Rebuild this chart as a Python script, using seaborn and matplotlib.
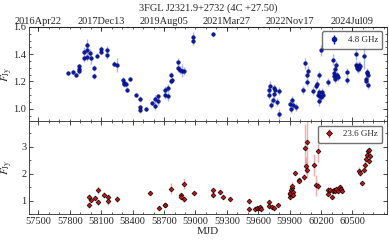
import datetime
import numpy as np
import pandas as pd
import seaborn as sns
import matplotlib
matplotlib.use('Agg')
from matplotlib import pyplot as plt
from matplotlib.ticker import MultipleLocator, FixedLocator, FuncFormatter

# 4.8 GHz light curve (MJD, flux in Jy, error)
mjd_48 = [57787, 57831, 57860, 57885, 57885, 57885, 57939, 57939, 57968, 57968, 57968,
          57997, 58006, 58035, 58035, 58063, 58102, 58102, 58159, 58159, 58226, 58255,
          58312, 58315, 58320, 58340, 58347, 58372, 58436, 58467, 58467, 58467, 58529,
          58586, 58617, 58617, 58646, 58646, 58713, 58713, 58739, 58739, 58770, 58770,
          58775, 58830, 58830, 58850, 58872, 58887, 58978, 58978, 59165,
          59706, 59706, 59716, 59725, 59741, 59747, 59747, 59757, 59780, 59795, 59795,
          59900, 59914, 59923, 59933, 59957, 60028, 60050, 60066, 60066, 60072, 60124,
          60155, 60162, 60168, 60177, 60184, 60184, 60193, 60200, 60203, 60212, 60222,
          60263, 60315, 60322, 60322, 60337, 60337, 60346, 60356, 60365, 60448, 60448,
          60537, 60537, 60547, 60547, 60556, 60566, 60566, 60575, 60614, 60633, 60633,
          60642, 60642, 60652, 60652]
flux_48 = [1.26, 1.27, 1.245, 1.31, 1.29, 1.275, 1.42, 1.375, 1.47, 1.43, 1.38,
           1.41, 1.37, 1.30, 1.24, 1.39, 1.44, 1.42, 1.43, 1.395, 1.33, 1.32,
           1.21, 1.19, 1.18, 1.18, 1.14, 1.215, 1.10, 1.07, 1.01, 0.99, 1.00,
           1.04, 1.07, 1.02, 1.09, 1.06, 1.14, 1.10, 1.15, 1.09, 1.20, 1.25,
           1.21, 1.345, 1.30, 1.285, 1.28, 1.275, 1.53, 1.50, 1.545,
           1.14, 1.10, 1.17, 1.03, 1.065, 1.11, 1.15, 1.14, 1.05, 1.13, 0.965,
           1.035, 1.00, 1.065, 1.03, 1.015, 1.14, 1.335, 1.195, 1.245, 1.28, 1.13,
           1.165, 1.185, 1.10, 1.245, 1.12, 1.06, 1.09, 1.43, 1.085, 1.12, 1.10,
           1.195, 1.36, 1.24, 1.26, 1.22, 1.29, 1.32, 1.25, 1.23, 1.27, 1.21,
           1.40, 1.32, 1.31, 1.30, 1.29, 1.30, 1.32, 1.31, 1.385, 1.22, 1.20,
           1.27, 1.26, 1.175, 1.25]
err_48 = [0.015, 0.015, 0.015, 0.02, 0.02, 0.02, 0.03, 0.03, 0.04, 0.03, 0.03,
          0.03, 0.04, 0.02, 0.02, 0.02, 0.02, 0.02, 0.03, 0.03, 0.02, 0.05,
          0.02, 0.02, 0.02, 0.02, 0.02, 0.015, 0.015, 0.02, 0.02, 0.02, 0.015,
          0.015, 0.03, 0.03, 0.02, 0.03, 0.03, 0.03, 0.03, 0.03, 0.02, 0.02,
          0.02, 0.03, 0.03, 0.03, 0.05, 0.03, 0.03, 0.03, 0.02,
          0.03, 0.03, 0.03, 0.03, 0.03, 0.03, 0.03, 0.03, 0.03, 0.03, 0.03,
          0.03, 0.03, 0.03, 0.03, 0.03, 0.03, 0.04, 0.03, 0.03, 0.03, 0.03,
          0.03, 0.03, 0.03, 0.03, 0.03, 0.04, 0.03, 0.04, 0.03, 0.03, 0.03,
          0.03, 0.04, 0.03, 0.03, 0.03, 0.03, 0.03, 0.03, 0.03, 0.03, 0.03,
          0.04, 0.03, 0.03, 0.03, 0.03, 0.03, 0.03, 0.03, 0.09, 0.03, 0.03,
          0.03, 0.03, 0.03, 0.03]

# 23.6 GHz light curve
mjd_236 = [57980, 57980, 58003, 58038, 58066, 58066, 58130, 58162, 58162, 58252,
           58570, 58649, 58713, 58713, 58770, 58866, 58866, 58888, 58888, 58983,
           59169, 59169, 59238, 59264, 59327, 59509, 59509, 59573, 59589, 59604,
           59620, 59630, 59700, 59706, 59732, 59747, 59786,
           59900, 59900, 59907, 59916, 59926, 59926, 59933, 59933, 59955, 59986,
           59993, 60041, 60050, 60053, 60066, 60066, 60136, 60152, 60168, 60174,
           60263, 60263, 60289, 60305, 60311, 60320, 60337, 60346, 60359, 60375,
           60384, 60391, 60400,
           60559, 60575, 60592, 60614, 60623, 60633, 60640, 60649, 60655, 60665, 60662]
flux_236 = [1.14, 0.85, 1.04, 1.09, 1.38, 0.94, 1.22, 1.14, 1.00, 1.06,
            1.29, 0.73, 0.82, 0.85, 1.44, 1.22, 1.14, 1.06, 1.62, 1.28,
            1.38, 1.22, 1.31, 1.12, 1.05, 0.97, 0.70, 0.69, 0.73, 0.71,
            0.75, 0.70, 0.94, 0.81, 0.77, 0.73, 0.85,
            1.15, 1.25, 1.30, 1.38, 1.45, 1.55, 1.32, 1.20, 2.02, 1.78,
            1.72, 1.88, 2.95, 2.30, 3.16, 2.12, 2.33, 1.56, 1.53, 2.83,
            1.41, 1.26, 1.40, 1.15, 1.36, 1.40, 1.35, 1.42, 1.36, 1.48,
            1.50, 1.42, 1.36,
            2.11, 2.02, 1.65, 2.15, 2.33, 2.54, 2.70, 2.83, 2.86, 2.67, 2.46]
err_236 = [0.12, 0.1, 0.08, 0.08, 0.15, 0.1, 0.1, 0.1, 0.15, 0.1,
           0.05, 0.05, 0.06, 0.06, 0.2, 0.08, 0.08, 0.1, 0.2, 0.05,
           0.08, 0.06, 0.05, 0.04, 0.04, 0.08, 0.06, 0.04, 0.04, 0.04,
           0.04, 0.04, 0.05, 0.05, 0.04, 0.04, 0.04,
           0.05, 0.05, 0.06, 0.06, 0.1, 0.15, 0.08, 0.06, 0.08, 0.06,
           0.06, 0.1, 0.9, 0.3, 0.8, 0.3, 0.4, 0.4, 0.15, 0.4,
           0.1, 0.08, 0.1, 0.08, 0.08, 0.08, 0.06, 0.06, 0.06, 0.06,
           0.06, 0.06, 0.06,
           0.12, 0.12, 0.08, 0.12, 0.12, 0.12, 0.12, 0.12, 0.12, 0.12, 0.12]

date_ticks = [57500, 58100, 58700, 59300, 59900, 60500]
mjd_ticks = [57500, 57800, 58100, 58400, 58700, 59000, 59300, 59600, 59900, 60200, 60500]

df48 = pd.DataFrame({'MJD': mjd_48, 'F': flux_48, 'err': err_48})
df236 = pd.DataFrame({'MJD': mjd_236, 'F': flux_236, 'err': err_236})

sns.set_style('ticks')
plt.rcParams['font.family'] = ['Liberation Serif', 'DejaVu Serif']
plt.rcParams['mathtext.fontset'] = 'stix'
plt.rcParams['font.size'] = 7.5
plt.rcParams['xtick.direction'] = 'in'
plt.rcParams['ytick.direction'] = 'in'

fig = plt.figure(figsize=(3.89, 2.43), dpi=100)
ax1 = fig.add_axes([29/389, 0.502, 358/389, 0.387])
ax2 = fig.add_axes([29/389, 0.119, 358/389, 0.383])

# top panel - 4.8 GHz
ax1.errorbar(df48['MJD'], df48['F'], yerr=df48['err'], fmt='none', ecolor='#8d9bf2', elinewidth=1, alpha=0.75, zorder=1)
sns.scatterplot(x='MJD', y='F', data=df48, ax=ax1, marker='o', s=7, color='#0a1aa8', edgecolor='#00005a', linewidth=0.3, zorder=2, legend=False)

# bottom panel - 23.6 GHz
ax2.errorbar(df236['MJD'], df236['F'], yerr=df236['err'], fmt='none', ecolor='#f49090', elinewidth=1, alpha=0.75, zorder=1)
sns.scatterplot(x='MJD', y='F', data=df236, ax=ax2, marker='D', s=6, color='#d01010', edgecolor='black', linewidth=0.5, zorder=2, legend=False)

for ax in [ax1, ax2]:
    ax.set_xlim(57410, 60830)
    ax.tick_params(which='both', top=True, right=True, direction='in', labelsize=7.5, pad=2)
    ax.tick_params(which='major', length=3, width=0.6)
    ax.tick_params(which='minor', length=1.5, width=0.5)
    ax.xaxis.set_minor_locator(MultipleLocator(100))
    for s in ax.spines.values():
        s.set_linewidth(0.6)
    ax.set_ylabel(r'$F_{\rm Jy}$', fontsize=8)
    ax.yaxis.set_label_coords(-0.038, 0.5)

ax1.set_ylim(0.91, 1.6)
ax1.yaxis.set_major_locator(MultipleLocator(0.2))
ax1.yaxis.set_minor_locator(MultipleLocator(0.05))
ax1.yaxis.set_major_formatter(FuncFormatter(lambda v, p: '%.1f' % v))
ax1.xaxis.set_major_locator(FixedLocator(date_ticks))
ax1.tick_params(axis='x', labelbottom=False)
ax1.set_xlabel('')

ax2.set_ylim(0.5, 3.95)
ax2.yaxis.set_major_locator(MultipleLocator(1))
ax2.yaxis.set_minor_locator(MultipleLocator(0.5))
ax2.xaxis.set_major_locator(FixedLocator(mjd_ticks))
ax2.set_xlabel('MJD', fontsize=8, labelpad=1)

# dates on top axis
def mjd2date(v, p):
    d = datetime.date(1858, 11, 17) + datetime.timedelta(days=int(round(v)))
    return d.strftime('%Y%b%d')

sec = ax1.secondary_xaxis('top')
sec.xaxis.set_major_locator(FixedLocator(date_ticks))
sec.xaxis.set_major_formatter(FuncFormatter(mjd2date))
sec.tick_params(axis='x', direction='in', length=3, width=0.6, labelsize=7.5, pad=1)

# legends
h1 = ax1.errorbar([], [], yerr=[], fmt='o', ms=3, color='#0a1aa8', ecolor='#0a1aa8', elinewidth=1)
ax1.legend([h1], ['4.8 GHz'], loc='upper right', fontsize=6.5, frameon=True, fancybox=True,
           edgecolor='0.3', handlelength=1.5, borderpad=0.5)
h2 = ax2.errorbar([], [], yerr=[], fmt='D', ms=3, color='#d01010', mec='black', mew=0.5, ecolor='#f08080', elinewidth=1)
ax2.legend([h2], ['23.6 GHz'], loc='upper right', fontsize=6.5, frameon=True, fancybox=True,
           edgecolor='0.3', handlelength=1.5, borderpad=0.5)

fig.text(208/389, 1 - 8/243, '3FGL J2321.9+2732 (4C +27.50)', ha='center', va='center', fontsize=7.5)

plt.savefig('out.png', dpi=100)
